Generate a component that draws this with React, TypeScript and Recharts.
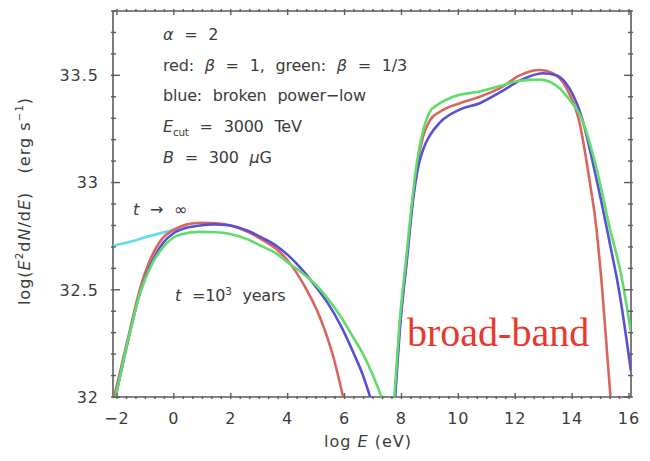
import { LineChart, Line, XAxis, YAxis, ReferenceArea } from 'recharts';

// log E (eV) vs log(E^2 dN/dE) values
const redLow = [
  [-2.1, 32.0], [-1.62, 32.27], [-1.2, 32.5], [-0.8, 32.65], [-0.4, 32.74], [0, 32.78],
  [0.47, 32.805], [0.93, 32.812], [1.5, 32.81], [2.0, 32.8], [2.6, 32.77], [3.14, 32.73],
  [3.6, 32.69], [3.98, 32.64], [4.54, 32.53], [5.14, 32.37], [5.6, 32.19], [5.95, 32.0],
];
const blueLow = [
  [-2.05, 32.0], [-1.6, 32.27], [-1.18, 32.49], [-0.77, 32.63], [-0.37, 32.72], [0, 32.765],
  [0.47, 32.79], [0.93, 32.8], [1.4, 32.805], [1.98, 32.8], [2.6, 32.775], [3.14, 32.74],
  [3.6, 32.705], [3.98, 32.665], [4.5, 32.595], [4.9, 32.53], [5.4, 32.44], [5.84, 32.34],
  [6.3, 32.21], [6.65, 32.1], [6.9, 32.0],
];
const greenLow = [
  [-2.05, 32.0], [-1.6, 32.27], [-1.18, 32.49], [-0.77, 32.62], [-0.37, 32.7], [0, 32.745],
  [0.3, 32.76], [0.9, 32.77], [1.5, 32.768], [1.98, 32.76], [2.6, 32.735], [3.14, 32.7],
  [3.6, 32.67], [3.98, 32.63], [4.5, 32.58], [4.9, 32.535], [5.4, 32.46], [5.84, 32.38],
  [6.25, 32.29], [6.65, 32.2], [7.0, 32.1], [7.3, 32.0],
];
const cyanLow = [
  [-2.14, 32.705], [-1.5, 32.725], [-1.0, 32.745], [-0.5, 32.763], [0, 32.78], [0.47, 32.805],
];
const redHigh = [
  [7.77, 32.0], [7.95, 32.34], [8.19, 32.65], [8.4, 32.92], [8.58, 33.1], [8.75, 33.21],
  [9.0, 33.29], [9.35, 33.33], [10.05, 33.37], [10.75, 33.4], [11.46, 33.44], [12.16, 33.5],
  [12.86, 33.525], [13.32, 33.51], [13.8, 33.44], [14.26, 33.28], [14.6, 33.02], [14.85, 32.79],
  [15.07, 32.48], [15.25, 32.17], [15.35, 32.0],
];
const blueHigh = [
  [7.78, 32.0], [7.96, 32.34], [8.2, 32.65], [8.41, 32.92], [8.6, 33.08], [8.78, 33.16],
  [9.0, 33.22], [9.35, 33.28], [10.05, 33.34], [10.75, 33.37], [11.46, 33.42], [12.16, 33.475],
  [12.96, 33.51], [13.44, 33.5], [13.9, 33.44], [14.3, 33.32], [14.85, 33.02], [15.32, 32.72],
  [15.67, 32.48], [15.9, 32.28], [16.07, 32.12],
];
const greenHigh = [
  [7.75, 32.0], [7.93, 32.34], [8.17, 32.65], [8.38, 32.92], [8.55, 33.1], [8.72, 33.22],
  [9.0, 33.33], [9.24, 33.36], [9.82, 33.4], [10.75, 33.425], [11.46, 33.45], [12.16, 33.475],
  [12.86, 33.48], [13.56, 33.44], [14.0, 33.37], [14.26, 33.32], [14.85, 33.07], [15.32, 32.79],
  [15.74, 32.56], [16.07, 32.3],
];

const xMajorTicks = [-2, 0, 2, 4, 6, 8, 10, 12, 14, 16];
const yMajorTicks = [32, 32.5, 33, 33.5];
const yTickLabels = ['32', '32.5', '33', '33.5'];

const X_DOMAIN = [-2.14, 16.07];
const Y_DOMAIN = [32, 33.8];

// minor ticks: 1/3 unit on x, 0.1 on y
const xTicks: number[] = [];
for (let i = 0; i <= 54; i++) xTicks.push(-2 + i / 3);
const yTicks: number[] = [];
for (let i = 0; i <= 18; i++) yTicks.push(32 + i / 10);

const toPoints = (arr: number[][]) => arr.map(([x, y]) => ({ x, y }));

const AXIS = '#5c5c5c';
const TXT = '#3c3c3c';
const FONT = '"DejaVu Sans", sans-serif';

const isMajorX = (v: number) => xMajorTicks.some((m) => Math.abs(m - v) < 1e-6);
const isMajorY = (v: number) => yMajorTicks.some((m) => Math.abs(m - v) < 1e-6);

function XTick(props: any) {
  const { x, y, payload, side } = props;
  const major = isMajorX(payload.value);
  const len = major ? 6 : 3;
  const dir = side === 'bottom' ? -1 : 1;
  const label = major ? String(payload.value).replace('-', '\u2212') : '';
  return (
    <g>
      <path d={`M${x},${y}L${x},${y + dir * len}`} stroke={AXIS} strokeWidth={1.4} fill="none" />
      {side === 'bottom' && major && (
        <text x={x} y={y + 25} textAnchor="middle" fontFamily={FONT} fontSize={16} fill={TXT} letterSpacing={1}>
          {label}
        </text>
      )}
    </g>
  );
}

function YTick(props: any) {
  const { x, y, payload, side } = props;
  const major = isMajorY(payload.value);
  const len = major ? 9 : 5;
  const dir = side === 'left' ? 1 : -1;
  const idx = yMajorTicks.findIndex((m) => Math.abs(m - payload.value) < 1e-6);
  return (
    <g>
      <path d={`M${x},${y}L${x + dir * len},${y}`} stroke={AXIS} strokeWidth={1.4} fill="none" />
      {side === 'left' && major && (
        <text x={x - 12} y={y} dy="0.36em" textAnchor="end" fontFamily={FONT} fontSize={16} fill={TXT} letterSpacing={1}>
          {yTickLabels[idx]}
        </text>
      )}
    </g>
  );
}

const sup = { fontSize: '0.65em', verticalAlign: 'super', lineHeight: 0 } as const;
const sub = { fontSize: '0.65em', verticalAlign: 'sub', lineHeight: 0 } as const;

function Note({ top, left, children, style }: any) {
  return (
    <div
      style={{
        position: 'absolute', left, top: top - 10, height: 20, lineHeight: '20px',
        whiteSpace: 'nowrap', fontFamily: FONT, fontSize: 16, color: TXT, wordSpacing: 6,
        letterSpacing: -0.2, ...style,
      }}
    >
      {children}
    </div>
  );
}

export default function App() {
  const series = [
    { data: cyanLow, color: '#62dfe2' },
    { data: redLow, color: '#d9655f' },
    { data: redHigh, color: '#d9655f' },
    { data: blueLow, color: '#5a50d4' },
    { data: blueHigh, color: '#5a50d4' },
    { data: greenLow, color: '#5fdc6c' },
    { data: greenHigh, color: '#5fdc6c' },
  ];
  return (
    <div style={{ position: 'absolute', left: 0, top: 0, width: 650, height: 461, background: '#fff' }}>
      <LineChart width={650} height={461} margin={{ top: 10, right: 18, left: 0, bottom: 0 }}>
        <XAxis
          type="number" dataKey="x" domain={X_DOMAIN} ticks={xTicks} interval={0}
          allowDataOverflow height={64} tickSize={0} tickLine={false} axisLine={false}
          tick={(p: any) => <XTick {...p} side="bottom" />}
        />
        <XAxis
          xAxisId="top" orientation="top" type="number" dataKey="x" domain={X_DOMAIN}
          ticks={xTicks} interval={0} allowDataOverflow height={1} tickSize={0} tickLine={false}
          axisLine={false}
          tick={(p: any) => <XTick {...p} side="top" />}
        />
        <YAxis
          type="number" domain={Y_DOMAIN} ticks={yTicks} interval={0} allowDataOverflow
          width={113} tickSize={0} tickLine={false} axisLine={false}
          tick={(p: any) => <YTick {...p} side="left" />}
        />
        <YAxis
          yAxisId="right" orientation="right" type="number" domain={Y_DOMAIN} ticks={yTicks}
          interval={0} allowDataOverflow width={1} tickSize={0} tickLine={false} axisLine={false}
          tick={(p: any) => <YTick {...p} side="right" />}
        />
        {series.map((s, i) => (
          <Line
            key={i} data={toPoints(s.data)} dataKey="y" type="monotone" stroke={s.color}
            strokeWidth={2.6} dot={false} activeDot={false} isAnimationActive={false}
          />
        ))}
        <ReferenceArea
          x1={X_DOMAIN[0]} x2={X_DOMAIN[1]} y1={Y_DOMAIN[0]} y2={Y_DOMAIN[1]}
          fill="none" fillOpacity={0} stroke={AXIS} strokeWidth={1.6} strokeOpacity={1}
          ifOverflow="visible"
        />
      </LineChart>

      {/* annotations */}
      <Note left={163} top={35}><i>α</i> = 2</Note>
      <Note left={163} top={66}>red: <i>β</i> = 1, green: <i>β</i> = 1/3</Note>
      <Note left={163} top={96}>blue: broken power−low</Note>
      <Note left={163} top={127}><i>E</i><span style={sub}>cut</span> = 3000 TeV</Note>
      <Note left={163} top={158}><i>B</i> = 300 <i>μ</i>G</Note>
      <Note left={133} top={210}><i>t</i> → ∞</Note>
      <Note left={175} top={296}><i>t</i> =10<span style={sup}>3</span> years</Note>
      <div
        style={{
          position: 'absolute', left: 407, top: 310, lineHeight: '46px', whiteSpace: 'nowrap',
          fontFamily: '"Liberation Serif", serif', fontSize: 40, color: '#e8392f',
        }}
      >
        broad-band
      </div>

      {/* axis titles */}
      <div
        style={{
          position: 'absolute', left: 368, top: 441, transform: 'translate(-50%, -50%)',
          whiteSpace: 'nowrap', fontFamily: FONT, fontSize: 16, color: TXT, letterSpacing: 1,
        }}
      >
        log <i>E</i> (eV)
      </div>
      <div
        style={{
          position: 'absolute', left: 24, top: 201, transform: 'translate(-50%, -50%) rotate(-90deg)',
          whiteSpace: 'nowrap', fontFamily: FONT, fontSize: 16, color: TXT, letterSpacing: 1,
        }}
      >
        log(<i>E</i><span style={sup}>2</span>d<i>N</i>/d<i>E</i>)&nbsp;&nbsp;&nbsp;(erg s<span style={sup}>−1</span>)
      </div>
    </div>
  );
}
